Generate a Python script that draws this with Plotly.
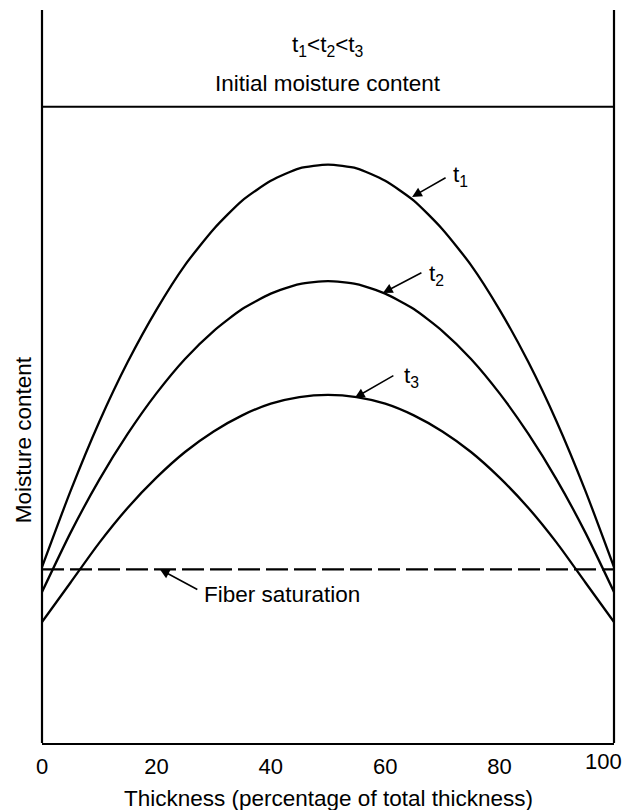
import plotly.graph_objects as go

# ---- data ----
thickness_pct = [0, 5, 10, 15, 20, 25, 30, 35, 40, 45, 50, 55, 60, 65, 70, 75, 80, 85, 90, 95, 100]
moisture_t1 = [24.0, 34.4, 43.8, 52.0, 59.1, 65.2, 70.1, 74.0, 76.7, 78.4, 78.9,
               78.4, 76.7, 74.0, 70.1, 65.2, 59.1, 52.0, 43.8, 34.4, 24.0]
moisture_t2 = [20.6, 28.7, 35.9, 42.2, 47.7, 52.4, 56.2, 59.2, 61.3, 62.6, 63.0,
               62.6, 61.3, 59.2, 56.2, 52.4, 47.7, 42.2, 35.9, 28.7, 20.6]
moisture_t3 = [16.5, 21.9, 27.3, 32.1, 36.2, 39.7, 42.5, 44.7, 46.3, 47.2, 47.5,
               47.2, 46.3, 44.7, 42.5, 39.7, 36.2, 32.1, 27.3, 21.9, 16.5]
initial_moisture = 86.8
fiber_saturation = 23.7
x_ticks = [0, 20, 40, 60, 80, 100]
x_tick_labels = ["0", "20", "40", "60", "80", "100"]

FONT = "Liberation Sans, Arial, Helvetica, sans-serif"
FS = 22.5
TICK_FS = 22

fig = go.Figure()

line_style = dict(color="black", width=2.3, shape="spline", smoothing=0.6)
for ys in (moisture_t1, moisture_t2, moisture_t3):
    fig.add_trace(go.Scatter(x=thickness_pct, y=ys, mode="lines", line=line_style,
                             hoverinfo="skip", showlegend=False))

# initial moisture content (solid) and fiber saturation (dashed)
fig.add_trace(go.Scatter(x=[thickness_pct[0], thickness_pct[-1]], y=[initial_moisture] * 2,
                         mode="lines", line=dict(color="black", width=2.2),
                         hoverinfo="skip", showlegend=False))
fig.add_trace(go.Scatter(x=[thickness_pct[0], thickness_pct[-1]], y=[fiber_saturation] * 2,
                         mode="lines", line=dict(color="black", width=2.3, dash="22px,6px"),
                         hoverinfo="skip", showlegend=False))

annotations = []
# arrows (tip on curve, tail offset in pixels)
arrows = [
    (64.7, 74.5, 35, -20),
    (59.6, 61.4, 40, -21),
    (54.7, 47.1, 40, -23),
    (20.6, fiber_saturation, 39, 21),
]
for x, y, ax, ay in arrows:
    annotations.append(dict(x=x, y=y, xref="x", yref="y", text="", showarrow=True,
                            ax=ax, ay=ay, arrowhead=2, arrowsize=1.3, arrowwidth=1.5,
                            arrowcolor="black"))

# curve labels
labels = [
    (71.5, 77.3, "t<sub>1</sub>"),
    (67.3, 63.8, "t<sub>2</sub>"),
    (62.9, 50.0, "t<sub>3</sub>"),
]
for x, y, txt in labels:
    annotations.append(dict(x=x, y=y, xref="x", yref="y", text=txt, showarrow=False,
                            xanchor="left", yanchor="middle",
                            font=dict(family=FONT, size=FS, color="black")))

annotations.append(dict(x=28.0, y=20.3, xref="x", yref="y", text="Fiber saturation",
                        showarrow=False, xanchor="left", yanchor="middle",
                        font=dict(family=FONT, size=FS, color="black")))

# top texts
annotations.append(dict(x=50, y=95.1, xref="x", yref="y",
                        text="t<sub>1</sub>&lt;t<sub>2</sub>&lt;t<sub>3</sub>",
                        showarrow=False, xanchor="center", yanchor="middle",
                        font=dict(family=FONT, size=FS, color="black")))
annotations.append(dict(x=50, y=90.0, xref="x", yref="y", text="Initial moisture content",
                        showarrow=False, xanchor="center", yanchor="middle",
                        font=dict(family=FONT, size=FS, color="black")))

# axis titles
annotations.append(dict(x=0, y=0.413, xref="paper", yref="paper", text="Moisture content",
                        textangle=-90, showarrow=False, xanchor="center", yanchor="middle",
                        xshift=-19, font=dict(family=FONT, size=FS, color="black")))
annotations.append(dict(x=0.5, y=0, xref="paper", yref="paper",
                        text="Thickness (percentage of total thickness)",
                        showarrow=False, xanchor="center", yanchor="middle",
                        yshift=-55, font=dict(family=FONT, size=FS, color="black")))

# last tick label drawn slightly inside so it is not clipped at the page edge
tick_text_axis = x_tick_labels[:-1] + [""]
annotations.append(dict(x=x_ticks[-1], y=0, xref="x", yref="paper", text=x_tick_labels[-1],
                        showarrow=False, xanchor="center", yanchor="top",
                        xshift=-11, yshift=-4,
                        font=dict(family=FONT, size=TICK_FS, color="black")))

shapes = [
    dict(type="line", xref="paper", yref="paper", x0=0, x1=0, y0=0, y1=1,
         line=dict(color="black", width=2.2)),
    dict(type="line", xref="paper", yref="paper", x0=1, x1=1, y0=0, y1=1,
         line=dict(color="black", width=2.2)),
]

# the page body adds an 8px offset, so the figure is sized/margined to compensate
fig.update_layout(
    width=625, height=802,
    margin=dict(l=34, r=19, t=2, b=67),
    paper_bgcolor="white", plot_bgcolor="white",
    showlegend=False,
    annotations=annotations,
    shapes=shapes,
    xaxis=dict(range=[0, 100], tickvals=x_ticks, ticktext=tick_text_axis,
               showgrid=False, zeroline=False, showline=True, linecolor="black",
               linewidth=2.2, ticks="", ticklabelstandoff=2,
               automargin=False,
               tickfont=dict(family=FONT, size=TICK_FS, color="black")),
    yaxis=dict(range=[0, 100], showgrid=False, zeroline=False, showline=False,
               showticklabels=False, ticks="", automargin=False),
)

fig.write_html("out.html")
